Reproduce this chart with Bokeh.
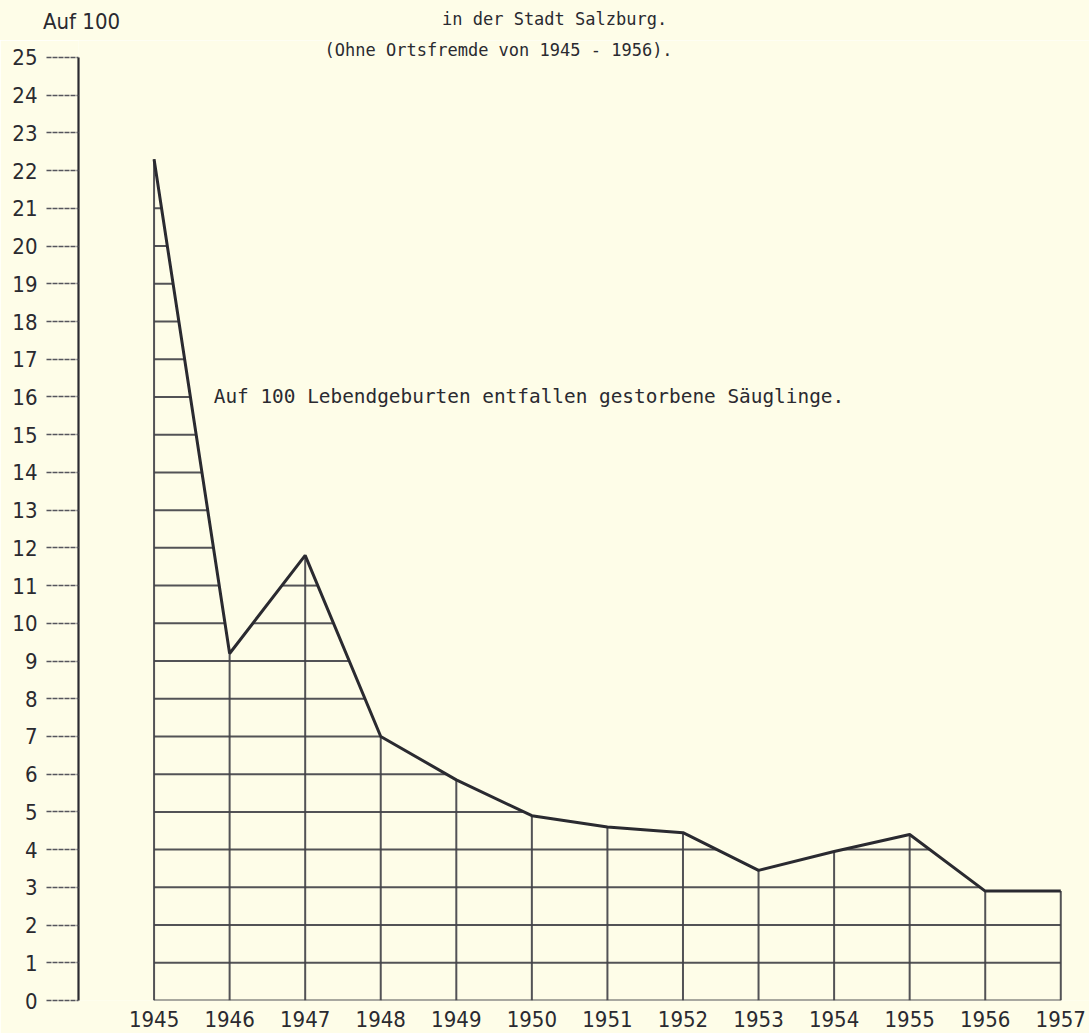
from bokeh.plotting import figure
from bokeh.layouts import column
from bokeh.models import Range1d, FixedTicker, Label, Div
from bokeh.embed import file_html
from bokeh.resources import INLINE

# ---- data ----
years = [1945, 1946, 1947, 1948, 1949, 1950, 1951, 1952, 1953, 1954, 1955, 1956, 1957]
rate = [22.3, 9.2, 11.8, 7.0, 5.85, 4.9, 4.6, 4.45, 3.45, 3.95, 4.4, 2.9, 2.9]
y_ticks = list(range(0, 26))
year_labels = [str(y) for y in years]

title_line1 = "in der Stadt Salzburg."
title_line2 = "(Ohne Ortsfremde von 1945 - 1956)."
unit_label = "Auf 100"
note = "Auf 100 Lebendgeburten entfallen gestorbene Säuglinge."

# ---- style ----
BG = "#fefde8"
INK = "#2a2a30"
HATCH = "#404046"
MONO = "DejaVu Sans Mono"
COND = "DejaVu Sans Condensed"

# header strip (texts above the chart)
head_html = (
    f'<div style="position:relative;width:1089px;height:40px;background:{BG};overflow:hidden;">'
    f'<span style="position:absolute;left:43px;top:11px;font-family:\'{COND}\';font-size:22px;'
    f'line-height:22px;color:{INK};white-space:nowrap;">{unit_label}</span>'
    f'<span style="position:absolute;left:442px;top:11px;font-family:\'{MONO}\';font-size:17px;'
    f'line-height:17px;color:{INK};white-space:nowrap;">{title_line1}</span>'
    '</div>'
)
head = Div(text=head_html, width=1089, height=40, margin=(0, 0, 0, 0))

# main chart
p = figure(width=1089, height=993,
           x_range=Range1d(1944.0, 1957.38), y_range=Range1d(0, 25.45),
           output_backend="svg", toolbar_location=None,
           min_border_left=78, min_border_right=0, min_border_top=0, min_border_bottom=33,
           background_fill_color=BG, border_fill_color=BG, outline_line_color=None)
p.grid.visible = False

# x axis: only year labels
p.xaxis.ticker = FixedTicker(ticks=years)
p.xaxis.major_label_overrides = {y: s for y, s in zip(years, year_labels)}
p.xaxis.axis_line_color = None
p.xaxis.major_tick_line_color = None
p.xaxis.minor_tick_line_color = None
p.xaxis.major_label_standoff = 4
p.xaxis.major_label_text_font = COND
p.xaxis.major_label_text_font_size = "22px"
p.xaxis.major_label_text_color = INK

# y axis
p.yaxis.ticker = FixedTicker(ticks=y_ticks)
p.yaxis.bounds = (y_ticks[0], y_ticks[-1])
p.yaxis.axis_line_color = INK
p.yaxis.axis_line_width = 2.2
p.yaxis.major_tick_out = 32
p.yaxis.major_tick_in = 0
p.yaxis.major_tick_line_color = "#55555c"
p.yaxis.major_tick_line_width = 1.6
p.yaxis.major_tick_line_dash = "5 1"
p.yaxis.minor_tick_line_color = None
p.yaxis.major_label_standoff = 9
p.yaxis.major_label_text_font = COND
p.yaxis.major_label_text_font_size = "22px"
p.yaxis.major_label_text_color = INK

# hatching: horizontal lines at every integer level below the curve
hatch_levels = list(range(0, int(max(rate)) + 1))
hx, hy = [], []
for h in hatch_levels:
    for i in range(len(years) - 1):
        x0, x1 = years[i], years[i + 1]
        y0, y1 = rate[i], rate[i + 1]
        if y0 < h and y1 < h:
            continue
        a, b = x0, x1
        if y0 < h:
            a = x0 + (h - y0) / (y1 - y0) * (x1 - x0)
        if y1 < h:
            b = x0 + (h - y0) / (y1 - y0) * (x1 - x0)
        hx.append([a, b])
        hy.append([h, h])
p.multi_line(hx, hy, line_color=HATCH, line_width=2.0, line_alpha=0.9)

# vertical lines at each year
p.segment(x0=years, y0=[0] * len(years), x1=years, y1=rate,
          line_color=HATCH, line_width=2.0, line_alpha=0.9)

# the curve
p.line(years, rate, line_color=INK, line_width=3.0)

# texts inside the chart
p.add_layout(Label(x=1949.56, y=25.19, text=title_line2, text_font=MONO,
                   text_font_size="17px", text_color=INK,
                   text_align="center", text_baseline="middle"))
p.add_layout(Label(x=1945.79, y=16.0, text=note, text_font=MONO,
                   text_font_size="19.4px", text_color=INK,
                   text_align="left", text_baseline="middle"))

layout = column(head, p, spacing=0)
open("out.html", "w").write(file_html(layout, INLINE))
